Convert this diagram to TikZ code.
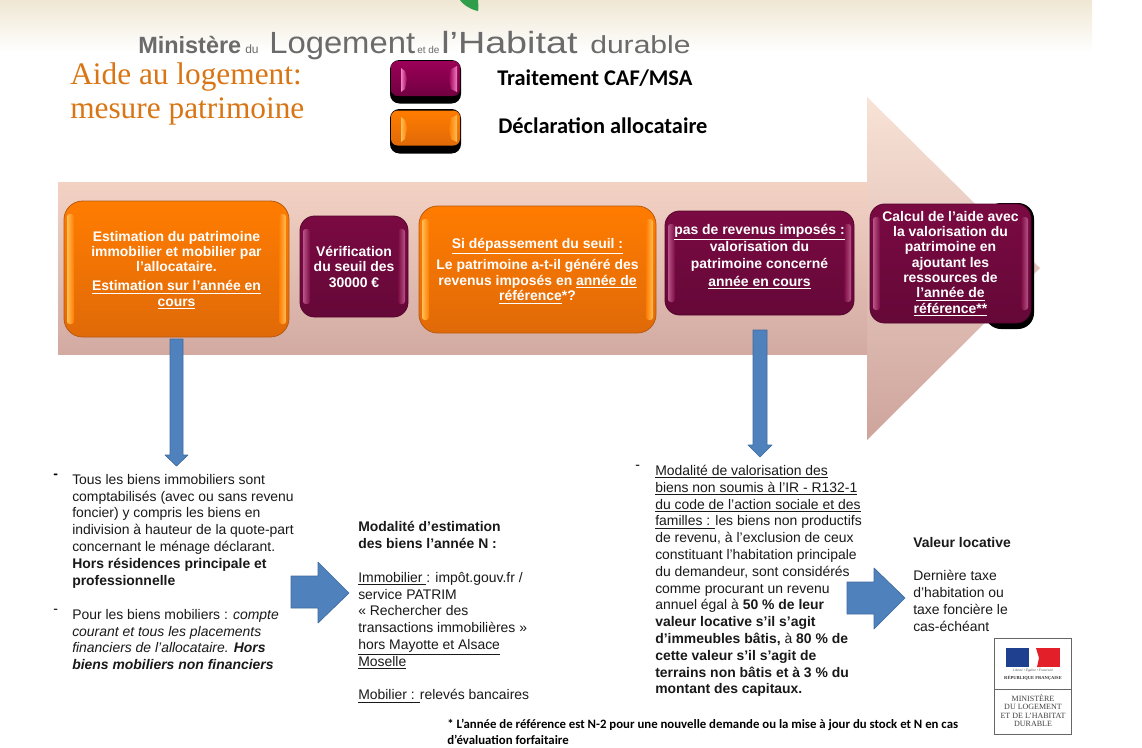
\documentclass[tikz,border=0pt]{standalone}
\usepackage{fontspec}
\setmainfont{Liberation Sans}
\newfontfamily\serifx{Liberation Serif}
\newfontfamily\carl{Carlito}
\usetikzlibrary{positioning}
\definecolor{orangeMain}{HTML}{FF7C00}
\definecolor{orangeDark}{HTML}{E06A08}
\definecolor{orangeEdge}{HTML}{B85A10}
\definecolor{orangeRim}{HTML}{FFBE55}
\definecolor{plumMain}{HTML}{7A0A42}
\definecolor{plumDark}{HTML}{650838}
\definecolor{plumEdge}{HTML}{55052E}
\definecolor{plumRim}{HTML}{B85488}
\definecolor{legPlumTop}{HTML}{9C0058}
\definecolor{legPlumBot}{HTML}{700040}
\definecolor{legPlumRim}{HTML}{F080C0}
\definecolor{blueArrow}{HTML}{4F81BD}
\definecolor{blueEdge}{HTML}{3F6A9E}
\definecolor{bandTop}{HTML}{EFE7D3}
\definecolor{headTop}{HTML}{F8E2D6}
\definecolor{headBot}{HTML}{CEA49C}
\definecolor{bodyTop}{HTML}{F3D2C4}
\definecolor{bodyBot}{HTML}{D2AAA2}
\definecolor{titleCol}{HTML}{D97514}
\definecolor{leaf}{HTML}{2E9E4A}
\definecolor{flagBlue}{HTML}{1F3F8F}
\definecolor{flagRed}{HTML}{E3202A}
\newcommand{\fs}[2]{\fontsize{#1}{#2}\selectfont}
\tikzset{
  facebase/.style={inner sep=0pt,align=center,text=white,font=\bfseries\fs{10.45}{11.6}},
  orangeface/.style={rounded corners=14pt,draw=orangeEdge,line width=.6pt,top color=orangeMain,bottom color=orangeDark},
  plumface/.style={rounded corners=11pt,draw=plumEdge,line width=.6pt,top color=plumMain,bottom color=plumDark},
  blockarrow/.style={fill=blueArrow,draw=blueEdge,line width=.5pt,line join=round},
  bodytext/.style={anchor=north west,inner sep=0pt,align=left,text=black!90,font=\fs{10.45}{12.6}},
  dashtext/.style={anchor=north west,inner sep=0pt,text=black,font=\fs{10.45}{12.6}},
  legendtext/.style={anchor=west,inner sep=0pt,text=black,font=\carl\bfseries\fs{16.8}{18}},
  headtext/.style={anchor=base west,inner sep=0pt,text=black!58},
}
\newcommand{\bbox}[9]{% kind, name, x1,y1,x2,y2, rim colour, node options, text
  \path[#1face] (#3,#4) rectangle (#5,#6);
  \shade[rounded corners=2pt,left color=#7,right color=#1Main] ({#3+3},{#4+13}) rectangle ({#3+10},{#6-13});
  \shade[rounded corners=2pt,right color=#7,left color=#1Main] ({#5-10},{#4+13}) rectangle ({#5-3},{#6-13});
  \pgfmathsetmacro{\bw}{(#5-#3)*0.75}
  \pgfmathsetmacro{\bh}{(#6-#4)*0.75}
  \node[facebase,minimum width=\bw pt,minimum height=\bh pt,#8] (#2) at ({(#3+#5)/2},{(#4+#6)/2}) {#9};
}
\newcommand{\legbox}[8]{% name, x1,y1,x2,y2, top, bottom, rim
  \fill[black,rounded corners=7pt] ({#2-1},{#3-1}) rectangle ({#4+1},{#5+7.5});
  \node[inner sep=0pt,rounded corners=5pt,top color=#6,bottom color=#7,minimum width=51.75pt,minimum height=26.25pt] (#1) at ({(#2+#4)/2},{(#3+#5)/2}) {};
  \shade[left color=#8,right color=#6] ({#2+10},{#3+7}) -- ({#2+14},{#3+10}) -- ({#2+16},{(#3+#5)/2}) -- ({#2+14},{#5-7}) -- ({#2+10},{#5-4}) -- cycle;
  \shade[right color=#8,left color=#6] ({#4-3},{#3+5}) -- ({#4-9},{#3+8}) -- ({#4-11},{(#3+#5)/2}) -- ({#4-9},{#5-7}) -- ({#4-3},{#5-4}) -- cycle;
}
\begin{document}
\begin{tikzpicture}[x=0.75pt,y=-0.75pt]
\useasboundingbox (0,0) rectangle (1142,747);
\fill[white] (0,0) rectangle (1142,747);
% header band
\shade[top color=bandTop,bottom color=white] (0,0) rectangle (1092,52);
\fill[leaf] (460,0) .. controls (463,5) and (472,10) .. (478,11) .. controls (479,7) and (478,3) .. (478,0) -- cycle;
% big arrow
\shade[top color=headTop,bottom color=headBot] (867,97) -- (1040,268) -- (867,440) -- cycle;
\shade[top color=bodyTop,bottom color=bodyBot] (58,182) rectangle (867,354);
% header title
\node[headtext,font=\bfseries\fs{17.6}{18}] (hA) at (138,53) {Ministère};
\node[headtext,font=\fs{9}{10}] (hB) at (245,53) {du};
\node[headtext,font=\fs{23}{25}] (hC) at (269,53) {\scalebox{1.07}[1]{Logement}};
\node[headtext,font=\fs{7.5}{9}] (hD) at (417,53) {et de};
\node[headtext,font=\fs{23}{25}] (hE) at (441,53) {\scalebox{1.23}[1]{l’Habitat}};
\node[headtext,font=\fs{18.5}{20}] (hF) at (590,53) {\scalebox{1.22}[1]{durable}};
% page title
\node[anchor=north west,inner sep=0pt,align=left,text=titleCol,font=\serifx\fs{23.5}{25.5}] (title) at (70,62) {Aide au logement:\\mesure patrimoine};
% legend
\legbox{legA}{391}{61}{460}{96}{legPlumTop}{legPlumBot}{legPlumRim}
\legbox{legB}{391}{110}{460}{146}{orangeMain}{orangeDark}{orangeRim}
\node[legendtext] (legAt) at (497,78) {Traitement CAF/MSA};
\node[legendtext] (legBt) at (498,126) {Déclaration allocataire};
% process boxes
\bbox{orange}{b1}{64}{201}{289}{337}{orangeRim}{yshift=-.75pt}{Estimation du patrimoine\\immobilier et mobilier par\\l’allocataire.\\[2.5pt]\underline{Estimation sur l’année en}\\\underline{cours}}
\bbox{plum}{b2}{300}{216}{408}{317}{plumRim}{}{Vérification\\du seuil des\\30000 €}
\bbox{orange}{b3}{419}{206}{656}{333}{orangeRim}{yshift=-1.2pt}{\underline{Si dépassement du seuil :}\\[3pt]Le patrimoine a-t-il généré des\\revenus imposés en \underline{année de}\\\underline{référence}*?}
\bbox{plum}{b4}{665}{211}{854}{315}{plumRim}{font=\bfseries\fs{10.45}{12.9},yshift=-.6pt}{\underline{pas de revenus imposés :}\\valorisation du\\patrimoine concerné\\\underline{année en cours}\\\mbox{}}
\fill[black,rounded corners=12pt] (985,203) rectangle (1034,329);
\bbox{plum}{b5}{870}{204}{1031}{323}{plumRim}{font=\bfseries\fs{10.45}{11.5}}{Calcul de l’aide avec\\la valorisation du\\patrimoine  en\\ajoutant les\\ressources de\\\underline{l’année de}\\\underline{référence**}}
% down arrows
\draw[blockarrow] (170,339) -- (183,339) -- (183,455) -- (188,455) -- (176.5,466) -- (165,455) -- (170,455) -- cycle;
\draw[blockarrow] (753,330) -- (767,330) -- (767,445) -- (772,445) -- (760,457) -- (748,445) -- (753,445) -- cycle;
% right arrows
\draw[blockarrow] (291,576) -- (318,576) -- (318,562) -- (349,593) -- (318,623) -- (318,608) -- (291,608) -- cycle;
\draw[blockarrow] (847,582) -- (874,582) -- (874,568) -- (905,598) -- (874,629) -- (874,614) -- (847,614) -- cycle;
% text blocks
\node[dashtext] (d1) at (53,474) {\textbf{-}};
\node[bodytext] (t1) at (72,474) {Tous les biens immobiliers sont\\comptabilisés (avec ou sans revenu\\foncier) y compris les biens en\\indivision à hauteur de la quote-part\\concernant le ménage déclarant.\\\textbf{Hors résidences  principale et}\\\textbf{professionnelle}};
\node[dashtext] (d2) at (53,609) {-};
\node[bodytext] (t2) at (72,609) {Pour les biens mobiliers : \textit{compte}\\\textit{courant et  tous les  placements}\\\textit{financiers  de l’allocataire.} \textbf{\textit{Hors}}\\\textbf{\textit{biens mobiliers non financiers}}};
\node[bodytext] (t3) at (358,521.5) {\textbf{Modalité d’estimation}\\\textbf{des biens l’année N :}\\\mbox{}\\\underline{Immobilier }: impôt.gouv.fr /\\service PATRIM\\« Rechercher des\\transactions immobilières »\\\underline{hors Mayotte et Alsace}\\\underline{Moselle}\\\mbox{}\\\underline{Mobilier : }relevés bancaires};
\node[dashtext] (d3) at (635,465) {-};
\node[bodytext] (t4) at (655,465) {\underline{Modalité de valorisation des}\\\underline{biens non soumis à l’IR - R132-1}\\\underline{du code de l'action sociale et des}\\\underline{familles : }les biens non productifs\\de revenu, à l'exclusion de ceux\\constituant l'habitation principale\\du demandeur, sont considérés\\comme procurant un revenu\\annuel égal à \textbf{50 \% de leur}\\\textbf{valeur locative s'il s'agit}\\\textbf{d'immeubles bâtis,} à \textbf{80 \% de}\\\textbf{cette valeur s'il s'agit de}\\\textbf{terrains non bâtis et à 3 \% du}\\\textbf{montant des capitaux.}};
\node[bodytext] (t5) at (913,537) {\textbf{Valeur locative}\\\mbox{}\\Dernière taxe\\d’habitation ou\\taxe foncière le\\cas-échéant};
\node[anchor=north west,inner sep=0pt,align=left,text=black,font=\carl\bfseries\fs{9.6}{12}] (foot) at (447,719) {* L’année de référence est N-2 pour une nouvelle demande ou la mise à jour du stock et N en cas\\d’évaluation forfaitaire};
% logo
\draw[black!60,line width=.6pt] (994,638) rectangle (1071,734);
\draw[black!60,line width=.6pt] (994,689) -- (1071,689);
\fill[flagBlue] (1006,648) rectangle (1029,667);
\fill[flagRed] (1041,648) rectangle (1060,667);
\fill[flagRed] (1036,648) -- (1041,648) -- (1041,667) -- (1037,667) -- (1039,658) -- cycle;
\node[inner sep=0pt,text=black!70,font=\serifx\itshape\fs{2.6}{3}] (lg1) at (1033,670.5) {Liberté • Égalité • Fraternité};
\node[inner sep=0pt,text=black!80,font=\serifx\bfseries\fs{3.4}{4}] (lg2) at (1033,678) {RÉPUBLIQUE FRANÇAISE};
\node[inner sep=0pt,align=center,text=black!75,font=\serifx\fs{6}{6.4}] (lg3) at (1033,710.5) {MINISTÈRE\\DU LOGEMENT\\ET DE L’HABITAT\\DURABLE};
\end{tikzpicture}
\end{document}
